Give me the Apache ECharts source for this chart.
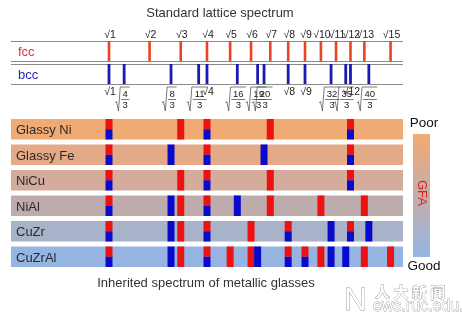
<!DOCTYPE html>
<html><head><meta charset="utf-8">
<script src="https://cdn.jsdelivr.net/npm/echarts/dist/echarts.min.js"></script>
<style>html,body{margin:0;padding:0;background:#fff}#c{width:462px;height:321px}</style>
</head><body><div id="c"></div>
<script>
// ---- data ----
const fccSquares = [1,2,3,4,5,6,7,8,9,10,11,12,13,15];
const bccNum = [1,4,8,11,4,16,19,20,8,9,32,35,12,40];
const bccDen = [1,3,3,3,1,3,3,3,1,1,3,3,1,3];
const alloyNames = ['Glassy Ni','Glassy Fe','NiCu','NiAl','CuZr','CuZrAl'];
const alloyFcc = [
  [1,3,4,7,12],
  [1,4,12],
  [1,3,4,7,12],
  [1,3,4,7,10,13],
  [1,3,4,6,8,12],
  [1,3,4,5,6,8,9,10,13,15]
];
const alloyBcc = [
  ['1','4','12'],
  ['1','8/3','4','20/3','12'],
  ['1','4','12'],
  ['1','8/3','4','16/3'],
  ['1','8/3','4','8','32/3','12','40/3'],
  ['1','8/3','4','19/3','8','9','32/3','35/3']
];
const rowColors = ['#F0AA73','#E4AA87','#D4AC9B','#BEACAC','#A8B2C8','#96B4E1'];
const legendText = ['Poor','Good'];

// ---- style ----
const FCC_TICK = '#E8461E', BCC_TICK = '#1A1AB4';
const RED = '#EE1111', BLUE = '#0A0ACC';
const FONT = '"Liberation Sans", Arial, sans-serif';
const L = 11, W = 392;
const rowTop0 = 119, rowStep = 25.5, rowH = 20.5;

function parseFrac(s){ const p = s.split('/'); return p.length>1 ? (+p[0])/(+p[1]) : +p[0]; }

const grids = [
  {left:L, top:41, width:W, height:20},
  {left:L, top:64, width:W, height:20}
];
alloyNames.forEach((n,i)=>grids.push({left:L, top:rowTop0+i*rowStep, width:W, height:rowH,
  show:true, backgroundColor:rowColors[i], borderWidth:0}));

const xAxes = grids.map((g,i)=>({gridIndex:i, type:'value', min:0, max:4, show:false}));
const yAxes = grids.map((g,i)=>({gridIndex:i, type:'value', min:0, max:1, interval:1,
  show: i<2, axisLine:{show:false}, axisTick:{show:false}, axisLabel:{show:false},
  splitLine:{show: i<2, lineStyle:{color:'#8a8a8a', width:1}}}));

function fccRender(params, api){
  const v = api.value(0), n = api.value(1);
  const t = api.coord([v,1]), b = api.coord([v,0]);
  return {type:'group', children:[
    {type:'rect', shape:{x:t[0]-1.3, y:t[1], width:2.6, height:b[1]-t[1]}, style:{fill:FCC_TICK}},
    {type:'text', style:{text:'√'+n, x:t[0]+1, y:t[1]-6, align:'center', verticalAlign:'middle',
      font:'10.5px '+FONT, fill:'#222'}}
  ]};
}
function bccRender(params, api){
  const v = api.value(0), num = api.value(1), den = api.value(2);
  const t = api.coord([v,1]), b = api.coord([v,0]);
  const cx = t[0];
  const ch = [{type:'rect', shape:{x:cx-1.4, y:t[1], width:2.8, height:b[1]-t[1]}, style:{fill:BCC_TICK}}];
  if (den === 1) {
    ch.push({type:'text', style:{text:'√'+num, x:cx+1, y:b[1]+8, align:'center', verticalAlign:'middle',
      font:'10.5px '+FONT, fill:'#222'}});
  } else {
    const y0 = b[1];
    const hw = String(num).length*2.9 + 1.2;
    const nx = cx+1;
    ch.push({type:'text', style:{text:String(num), x:nx, y:y0+10, align:'center', verticalAlign:'middle', font:'9.5px '+FONT, fill:'#222'}});
    ch.push({type:'line', shape:{x1:nx-hw, y1:y0+15.5, x2:nx+hw, y2:y0+15.5}, style:{stroke:'#444', lineWidth:0.7}});
    ch.push({type:'text', style:{text:String(den), x:nx, y:y0+21.5, align:'center', verticalAlign:'middle', font:'9.5px '+FONT, fill:'#222'}});
    ch.push({type:'polyline', shape:{points:[[nx-hw-6,y0+19],[nx-hw-4.5,y0+17.5],[nx-hw-2.6,y0+27],[nx-hw-0.8,y0+3],[nx+hw+0.5,y0+3]]},
      style:{stroke:'#444', lineWidth:0.7, fill:null}});
  }
  return {type:'group', children:ch};
}
function rowRender(params, api){
  const v = api.value(0), kind = api.value(1);
  const t = api.coord([v,1]), b = api.coord([v,0]);
  const w = 7, x = t[0]-w/2, h = b[1]-t[1];
  if (kind === 2) {
    return {type:'group', children:[
      {type:'rect', shape:{x:x, y:t[1], width:w, height:h/2}, style:{fill:RED}},
      {type:'rect', shape:{x:x, y:t[1]+h/2, width:w, height:h/2}, style:{fill:BLUE}}
    ]};
  }
  return {type:'rect', shape:{x:x, y:t[1], width:w, height:h}, style:{fill: kind===0?RED:BLUE}};
}

const series = [
  {type:'custom', xAxisIndex:0, yAxisIndex:0, renderItem:fccRender, clip:false,
   data: fccSquares.map(n=>[Math.sqrt(n), n])},
  {type:'custom', xAxisIndex:1, yAxisIndex:1, renderItem:bccRender, clip:false,
   data: bccNum.map((n,i)=>[Math.sqrt(n/bccDen[i]), n, bccDen[i]])}
];
alloyNames.forEach((name,i)=>{
  const pts = [];
  alloyFcc[i].forEach(n=>pts.push([Math.sqrt(n),0]));
  alloyBcc[i].forEach(s=>{
    const v = Math.sqrt(parseFrac(s));
    const hit = pts.find(p=>Math.abs(p[0]-v)<1e-6);
    if (hit) hit[1] = 2; else pts.push([v,1]);
  });
  series.push({type:'custom', name:name, xAxisIndex:i+2, yAxisIndex:i+2, renderItem:rowRender, clip:false, data:pts});
});

const graphic = [
  {type:'text', z:100, style:{text:'Standard lattice spectrum', x:220, y:13, align:'center', verticalAlign:'middle', font:'13px '+FONT, fill:'#333'}},
  {type:'text', z:100, style:{text:'fcc', x:18, y:52, verticalAlign:'middle', font:'13px '+FONT, fill:'#E03030'}},
  {type:'text', z:100, style:{text:'bcc', x:18, y:75, verticalAlign:'middle', font:'13px '+FONT, fill:'#2828C0'}},
  {type:'text', z:100, style:{text:'Inherited spectrum of metallic glasses', x:206, y:283, align:'center', verticalAlign:'middle', font:'13px '+FONT, fill:'#333'}},
  {type:'rect', z:100, shape:{x:413, y:134, width:17, height:123}, style:{fill:new echarts.graphic.LinearGradient(0,0,0,1,[
    {offset:0, color:'#F2AA72'},{offset:0.5, color:'#C4ADA8'},{offset:1, color:'#96B5E5'}])}},
  {type:'text', z:100, style:{text:legendText[0], x:424, y:123, align:'center', verticalAlign:'middle', font:'13.5px '+FONT, fill:'#111'}},
  {type:'text', z:100, style:{text:legendText[1], x:424, y:266, align:'center', verticalAlign:'middle', font:'13.5px '+FONT, fill:'#111'}},
  {type:'text', z:101, x:421.5, y:193, rotation:-Math.PI/2, style:{text:'GFA', x:0, y:0, align:'center', verticalAlign:'middle', font:'13px '+FONT, fill:'#E02020'}},
  // watermark
  {type:'text', z:100, style:{text:'N', x:344, y:301, verticalAlign:'middle', font:'300 32px '+FONT, fill:'#fff', stroke:'#9a9a9a', lineWidth:0.8}},
  {type:'text', z:100, style:{text:'人 大 新 闻', x:375, y:292, verticalAlign:'middle', font:'bold 15px "Noto Sans CJK SC", sans-serif', fill:'#fff', stroke:'#9a9a9a', lineWidth:0.8}},
  {type:'text', z:100, style:{text:'ews.ruc.edu.cn', x:373, y:307, verticalAlign:'middle', font:'16px '+FONT, fill:'#fff', stroke:'#9a9a9a', lineWidth:0.8}}
];

const titles = alloyNames.map((name,i)=>({text:name, left:16, top:rowTop0+i*rowStep+3.5, padding:0,
  textStyle:{fontFamily:FONT, fontSize:13, fontWeight:'normal', color:'#2a2a2a', lineHeight:16}}));

const chart = echarts.init(document.getElementById('c'), null, {renderer:'canvas'});
chart.setOption({animation:false, backgroundColor:'#fff', title:titles, grid:grids, xAxis:xAxes, yAxis:yAxes, series:series, graphic:graphic});
</script></body></html>
